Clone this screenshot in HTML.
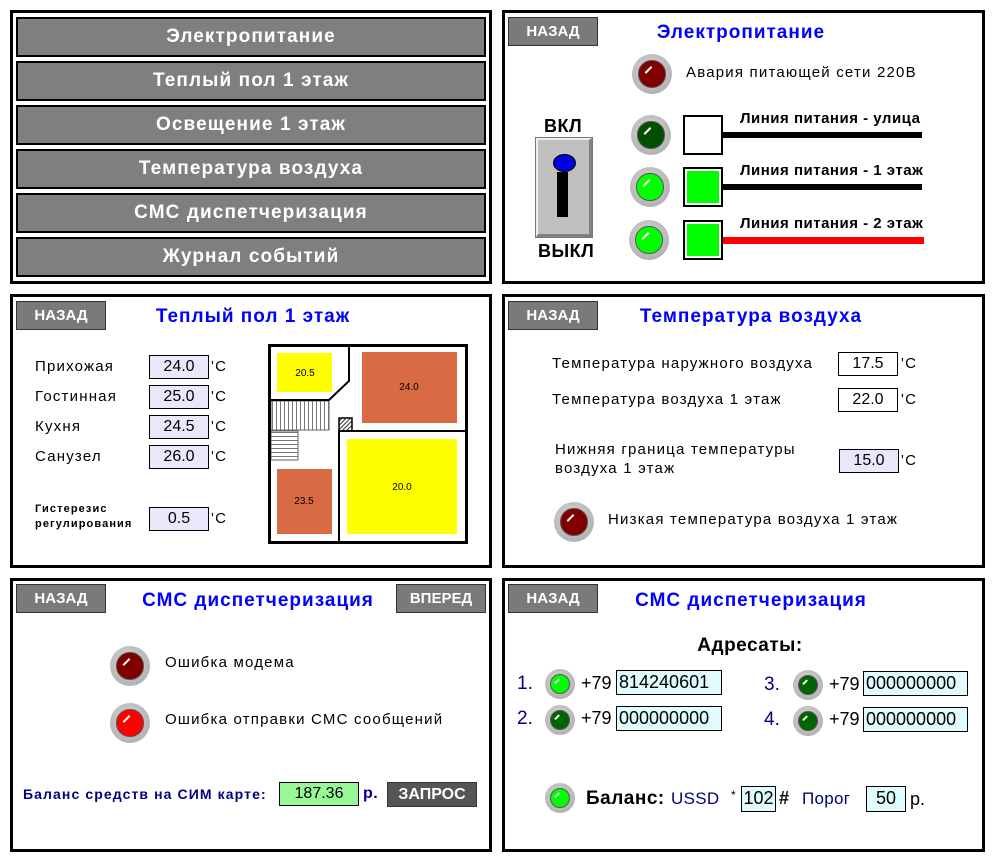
<!DOCTYPE html>
<html><head><meta charset="utf-8">
<style>
*{margin:0;padding:0;box-sizing:border-box}
body{width:994px;height:862px;background:#fff;position:relative;overflow:hidden;font-family:"Liberation Sans","Noto Sans CJK SC",sans-serif}
.a{position:absolute}
.panel{position:absolute;border:3px solid #000;background:#fff}
.menu{position:absolute;left:16px;width:470px;height:40px;background:#7f7f7f;border:2px solid #000;color:#fff;font-weight:bold;font-size:19px;letter-spacing:1.1px;text-align:center;line-height:36px}
.btn{position:absolute;width:90px;height:29px;background:#7a7a7a;border:1px solid #333;color:#fff;font-weight:bold;font-size:15px;text-align:center;line-height:27px}
.title{position:absolute;color:#0000ff;font-weight:bold;font-size:19px;letter-spacing:1px;white-space:nowrap;transform:translateX(-50%)}
.t{position:absolute;white-space:nowrap;font-size:15px;color:#000;letter-spacing:1.2px}
.b{font-weight:bold;letter-spacing:0.5px}
.box{position:absolute;height:24px;border:1px solid #000;font-size:16px;text-align:center;line-height:22px}
.lamp{position:absolute;border-radius:50%;background:radial-gradient(circle at 45% 40%,#d8d8d8 0%,#b4b4b4 70%,#8a8a8a 100%)}
.lamp i{position:absolute;border-radius:50%;left:16%;top:16%;width:68%;height:68%;border:1px solid #555}
.lamp i:after{content:"";position:absolute;left:18%;top:30%;width:35%;height:2px;background:#fff;transform:rotate(-45deg)}
</style></head><body>

<div class="panel" style="left:10px;top:10px;width:482px;height:274px"></div>
<div class="menu" style="top:17px">Электропитание</div>
<div class="menu" style="top:61px">Теплый пол 1 этаж</div>
<div class="menu" style="top:105px">Освещение 1 этаж</div>
<div class="menu" style="top:149px">Температура воздуха</div>
<div class="menu" style="top:193px">СМС диспетчеризация</div>
<div class="menu" style="top:237px">Журнал событий</div>

<div class="panel" style="left:502px;top:10px;width:483px;height:274px"></div>
<div class="btn" style="left:508px;top:17px">НАЗАД</div>
<div class="title" style="left:741px;top:22px">Электропитание</div>
<div class="lamp" style="left:632px;top:54px;width:40px;height:40px"><i style="background:#800000"></i></div>
<div class="t" style="left:686px;top:64px">Авария питающей сети 220В</div>
<div class="t b" style="left:544px;top:116px;font-size:18px">ВКЛ</div>
<div class="t b" style="left:538px;top:241px;font-size:18px">ВЫКЛ</div>
<div class="a" style="left:536px;top:138px;width:56px;height:99px;background:#c0c0c0;border-top:2px solid #eee;border-left:2px solid #eee;border-right:3px solid #808080;border-bottom:3px solid #808080;outline:1px solid #777"></div>
<div class="a" style="left:557px;top:172px;width:11px;height:45px;background:#000"></div>
<div class="a" style="left:553px;top:154px;width:23px;height:18px;border-radius:50%;background:#0000e0;border:1px solid #000"></div>
<div class="lamp" style="left:631px;top:115px;width:40px;height:40px"><i style="background:#005000"></i></div>
<div class="lamp" style="left:630px;top:167px;width:40px;height:40px"><i style="background:#00ff00"></i></div>
<div class="lamp" style="left:629px;top:220px;width:40px;height:40px"><i style="background:#00ff00"></i></div>
<div class="a" style="left:722px;top:132px;width:200px;height:6px;background:#000"></div>
<div class="a" style="left:722px;top:184px;width:200px;height:6px;background:#000"></div>
<div class="a" style="left:722px;top:237px;width:202px;height:7px;background:#ff0000"></div>
<div class="a" style="left:683px;top:115px;width:40px;height:40px;border:2px solid #000;background:#fff"></div>
<div class="a" style="left:683px;top:167px;width:40px;height:40px;border:2px solid #000;background:#fff;padding:2px"><div style="width:100%;height:100%;background:#00ff00"></div></div>
<div class="a" style="left:683px;top:220px;width:40px;height:40px;border:2px solid #000;background:#fff;padding:2px"><div style="width:100%;height:100%;background:#00ff00"></div></div>
<div class="t b" style="left:740px;top:110px">Линия питания - улица</div>
<div class="t b" style="left:740px;top:162px">Линия питания - 1 этаж</div>
<div class="t b" style="left:740px;top:215px">Линия питания - 2 этаж</div>

<div class="panel" style="left:10px;top:294px;width:482px;height:274px"></div>
<div class="btn" style="left:16px;top:301px">НАЗАД</div>
<div class="title" style="left:253px;top:306px">Теплый пол 1 этаж</div>
<div class="t" style="left:35px;top:358px">Прихожая</div>
<div class="t" style="left:35px;top:388px">Гостинная</div>
<div class="t" style="left:35px;top:418px">Кухня</div>
<div class="t" style="left:35px;top:448px">Санузел</div>
<div class="box" style="left:149px;top:355px;width:60px;background:#e8e8fa">24.0</div>
<div class="box" style="left:149px;top:385px;width:60px;background:#e8e8fa">25.0</div>
<div class="box" style="left:149px;top:415px;width:60px;background:#e8e8fa">24.5</div>
<div class="box" style="left:149px;top:445px;width:60px;background:#e8e8fa">26.0</div>
<div class="t" style="left:211px;top:358px">'C</div>
<div class="t" style="left:211px;top:388px">'C</div>
<div class="t" style="left:211px;top:418px">'C</div>
<div class="t" style="left:211px;top:448px">'C</div>
<div class="t b" style="left:35px;top:502px;font-size:11px;line-height:15px;letter-spacing:1.1px">Гистерезис<br>регулирования</div>
<div class="box" style="left:149px;top:507px;width:60px;background:#e8e8fa">0.5</div>
<div class="t" style="left:211px;top:510px">'C</div>
<svg class="a" style="left:260px;top:335px" width="215" height="215" viewBox="260 335 215 215">
<defs>
<pattern id="vh" width="4" height="4" patternUnits="userSpaceOnUse"><rect width="4" height="4" fill="#fff"/><line x1="0.5" y1="0" x2="0.5" y2="4" stroke="#555" stroke-width="0.8"/></pattern>
<pattern id="hh" width="4" height="4" patternUnits="userSpaceOnUse"><rect width="4" height="4" fill="#fff"/><line x1="0" y1="0.5" x2="4" y2="0.5" stroke="#555" stroke-width="0.8"/></pattern>
<pattern id="dh" width="3" height="3" patternUnits="userSpaceOnUse" patternTransform="rotate(45)"><rect width="3" height="3" fill="#fff"/><line x1="0.5" y1="0" x2="0.5" y2="3" stroke="#000" stroke-width="0.8"/></pattern>
</defs>
<rect x="277" y="353" width="55" height="39" fill="#ffff00"/>
<rect x="362" y="352" width="95" height="71" fill="#d86a44"/>
<rect x="347" y="439" width="110" height="95" fill="#ffff00"/>
<rect x="277" y="469" width="55" height="65" fill="#d86a44"/>
<rect x="271" y="401" width="58" height="29" fill="url(#vh)" stroke="#666"/>
<rect x="271" y="431" width="27" height="29" fill="url(#hh)" stroke="#666"/>
<rect x="339" y="418" width="13" height="13" fill="url(#dh)" stroke="#000" stroke-width="1.5"/>
<polyline points="349,345 349,381 329,400 269,400" fill="none" stroke="#000" stroke-width="2"/>
<polyline points="339,543 339,431 468,431" fill="none" stroke="#000" stroke-width="2"/>
<rect x="269.5" y="345.5" width="197" height="197" fill="none" stroke="#000" stroke-width="3"/>
<g font-family="Liberation Sans,sans-serif" font-size="10" text-anchor="middle">
<text x="305" y="376">20.5</text><text x="409" y="390">24.0</text>
<text x="402" y="490">20.0</text><text x="304" y="504">23.5</text></g>
</svg>

<div class="panel" style="left:502px;top:294px;width:483px;height:274px"></div>
<div class="btn" style="left:508px;top:301px">НАЗАД</div>
<div class="title" style="left:751px;top:306px">Температура воздуха</div>
<div class="t" style="left:552px;top:355px">Температура наружного воздуха</div>
<div class="t" style="left:552px;top:391px">Температура воздуха 1 этаж</div>
<div class="t" style="left:555px;top:440px;line-height:19px">Нижняя граница температуры<br>воздуха 1 этаж</div>
<div class="box" style="left:838px;top:352px;width:60px;background:#fff">17.5</div>
<div class="box" style="left:838px;top:388px;width:60px;background:#fff">22.0</div>
<div class="box" style="left:839px;top:449px;width:60px;background:#e8e8fa">15.0</div>
<div class="t" style="left:901px;top:355px">'C</div>
<div class="t" style="left:901px;top:391px">'C</div>
<div class="t" style="left:901px;top:452px">'C</div>
<div class="lamp" style="left:554px;top:502px;width:40px;height:40px"><i style="background:#800000"></i></div>
<div class="t" style="left:608px;top:511px">Низкая температура воздуха 1 этаж</div>

<div class="panel" style="left:10px;top:578px;width:482px;height:274px"></div>
<div class="btn" style="left:16px;top:584px">НАЗАД</div>
<div class="btn" style="left:396px;top:584px">ВПЕРЕД</div>
<div class="title" style="left:258px;top:590px">СМС диспетчеризация</div>
<div class="lamp" style="left:110px;top:646px;width:40px;height:40px"><i style="background:#800000"></i></div>
<div class="lamp" style="left:110px;top:703px;width:40px;height:40px"><i style="background:#ff0000"></i></div>
<div class="t" style="left:165px;top:654px">Ошибка модема</div>
<div class="t" style="left:165px;top:711px">Ошибка отправки СМС сообщений</div>
<div class="t b" style="left:23px;top:786px;color:#000080;font-size:14px;letter-spacing:1.1px">Баланс средств на СИМ карте:</div>
<div class="box" style="left:279px;top:782px;width:80px;background:#98f898">187.36</div>
<div class="t b" style="left:363px;top:785px;color:#000080;font-size:16px">р.</div>
<div class="btn" style="left:387px;top:782px;height:25px;line-height:23px;background:#555;width:90px;font-size:16px">ЗАПРОС</div>

<div class="panel" style="left:502px;top:578px;width:483px;height:274px"></div>
<div class="btn" style="left:508px;top:584px">НАЗАД</div>
<div class="title" style="left:751px;top:590px">СМС диспетчеризация</div>
<div class="t b" style="left:750px;top:635px;font-size:19px;transform:translateX(-50%)">Адресаты:</div>
<div class="t" style="left:517px;top:673px;font-size:19px;color:#000080;letter-spacing:0">1.</div>
<div class="t" style="left:517px;top:708px;font-size:19px;color:#000080;letter-spacing:0">2.</div>
<div class="t" style="left:764px;top:674px;font-size:19px;color:#000080;letter-spacing:0">3.</div>
<div class="t" style="left:764px;top:709px;font-size:19px;color:#000080;letter-spacing:0">4.</div>
<div class="lamp" style="left:545px;top:669px;width:30px;height:30px"><i style="background:#00ff00"></i></div>
<div class="lamp" style="left:545px;top:705px;width:30px;height:30px"><i style="background:#006400"></i></div>
<div class="lamp" style="left:793px;top:670px;width:30px;height:30px"><i style="background:#006400"></i></div>
<div class="lamp" style="left:793px;top:706px;width:30px;height:30px"><i style="background:#006400"></i></div>
<div class="t" style="left:581px;top:673px;font-size:18px;letter-spacing:0">+79</div>
<div class="t" style="left:581px;top:708px;font-size:18px;letter-spacing:0">+79</div>
<div class="t" style="left:829px;top:674px;font-size:18px;letter-spacing:0">+79</div>
<div class="t" style="left:829px;top:709px;font-size:18px;letter-spacing:0">+79</div>
<div class="box" style="left:616px;top:670px;width:106px;height:25px;background:#e0fcfc;font-size:18px;text-align:left;padding-left:2px">814240601</div>
<div class="box" style="left:616px;top:706px;width:106px;height:25px;background:#e0fcfc;font-size:18px;text-align:left;padding-left:2px">000000000</div>
<div class="box" style="left:863px;top:671px;width:105px;height:25px;background:#e0fcfc;font-size:18px;text-align:left;padding-left:2px">000000000</div>
<div class="box" style="left:863px;top:707px;width:105px;height:25px;background:#e0fcfc;font-size:18px;text-align:left;padding-left:2px">000000000</div>
<div class="lamp" style="left:545px;top:783px;width:30px;height:30px"><i style="background:#00ff00"></i></div>
<div class="t b" style="left:586px;top:788px;font-size:19px">Баланс:</div>
<div class="t" style="left:671px;top:789px;font-size:17px;color:#000080;letter-spacing:0.3px">USSD</div>
<div class="t" style="left:731px;top:788px;font-size:12px">*</div>
<div class="box" style="left:741px;top:786px;width:35px;height:26px;background:#e0fcfc;font-size:18px">102</div>
<div class="t b" style="left:779px;top:788px;font-size:18px">#</div>
<div class="t" style="left:802px;top:789px;font-size:17px;color:#000080;letter-spacing:0.3px">Порог</div>
<div class="box" style="left:866px;top:786px;width:40px;height:26px;background:#e0fcfc;font-size:18px">50</div>
<div class="t" style="left:910px;top:789px;font-size:18px;letter-spacing:0">р.</div>
</body></html>
